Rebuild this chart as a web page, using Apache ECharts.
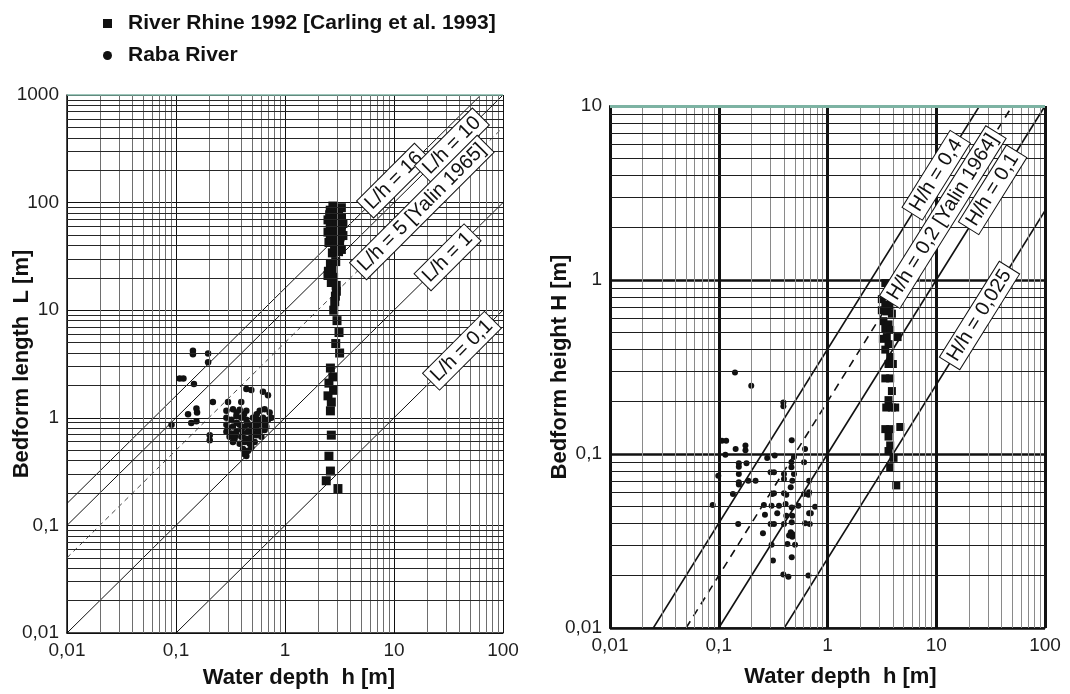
<!DOCTYPE html>
<html>
<head>
<meta charset="utf-8">
<title>Bedform length and height vs water depth</title>
<script src="https://cdn.jsdelivr.net/npm/echarts@6/dist/echarts.min.js"></script>
<style>
  html, body { margin: 0; padding: 0; background: #ffffff; }
  #chart { width: 1070px; height: 694px; }
</style>
</head>
<body>
<div id="chart"></div>
<script>
// ---- names and tick labels ----
const rhineName = 'River Rhine 1992 [Carling et al. 1993]';
const rabaName = 'Raba River';
const decadeLabels = { '-2': '0,01', '-1': '0,1', '0': '1', '1': '10', '2': '100', '3': '1000' };

// ---- left panel: water depth h [m] vs bedform length L [m] ----
const rhineLengthPoints = [
  [2.75, 92.9], [3.29, 89.6], [2.57, 77.1], [2.96, 74.3], [2.48, 69.1], [3.17, 66.6], [3.40, 64.0],
  [2.66, 59.5], [3.06, 57.3], [3.29, 55.2], [2.48, 53.2], [2.96, 51.3], [3.40, 49.4], [2.75, 45.9],
  [3.17, 44.2], [2.53, 42.6], [2.96, 39.5], [3.29, 36.7], [2.72, 34.1], [2.61, 27.2], [2.92, 28.3],
  [2.48, 21.0], [2.79, 20.2], [2.66, 18.1], [2.96, 15.0], [2.86, 12.0], [3.00, 8.0], [3.13, 6.2],
  [2.92, 4.9], [3.17, 4.0], [2.61, 2.9], [2.75, 2.4], [2.53, 2.1], [2.79, 1.8], [2.48, 1.6],
  [2.66, 1.4], [2.61, 1.16], [2.66, 0.69], [2.53, 0.44], [2.61, 0.32], [2.39, 0.26], [3.06, 0.22],
  [2.60, 85.0], [3.10, 80.0], [2.80, 70.0], [3.30, 72.0], [2.60, 62.0], [3.00, 62.0], [2.80, 52.0],
  [3.20, 48.0], [2.60, 47.0], [3.00, 45.0], [2.85, 38.0], [3.10, 35.0], [2.70, 24.0], [2.50, 23.0],
  [2.95, 17.0], [2.90, 13.5], [2.80, 10.0]
];
const rabaLengthPoints = [
  [0.143, 4.2], [0.143, 3.9], [0.197, 3.95], [0.197, 3.28], [0.108, 2.32], [0.117, 2.32], [0.146, 2.06],
  [0.218, 1.40], [0.091, 0.86], [0.129, 1.08], [0.154, 1.22], [0.156, 1.12], [0.138, 0.895], [0.154, 0.93],
  [0.204, 0.69], [0.204, 0.617],
  [0.442, 1.85], [0.491, 1.81], [0.628, 1.75], [0.698, 1.62], [0.397, 1.40], [0.300, 1.40], [0.290, 1.16],
  [0.333, 1.20], [0.384, 1.19], [0.442, 1.16], [0.586, 1.16], [0.650, 1.20], [0.723, 1.12], [0.290, 1.00],
  [0.322, 0.96], [0.358, 1.04], [0.397, 1.00], [0.442, 0.96], [0.508, 1.00], [0.565, 0.96], [0.628, 1.00],
  [0.698, 0.96], [0.750, 1.00], [0.290, 0.86], [0.333, 0.83], [0.384, 0.86], [0.427, 0.83], [0.474, 0.86],
  [0.546, 0.83], [0.607, 0.86], [0.674, 0.83], [0.290, 0.74], [0.322, 0.716], [0.358, 0.74], [0.412, 0.716],
  [0.458, 0.74], [0.508, 0.716], [0.586, 0.74], [0.650, 0.77], [0.310, 0.665], [0.345, 0.64], [0.397, 0.665],
  [0.442, 0.64], [0.491, 0.665], [0.546, 0.69], [0.607, 0.665], [0.333, 0.595], [0.384, 0.573], [0.427, 0.595],
  [0.474, 0.573], [0.527, 0.595], [0.412, 0.513], [0.458, 0.494], [0.491, 0.532], [0.442, 0.442], [0.427, 0.459],
  [0.360, 0.90], [0.450, 0.90], [0.530, 0.90], [0.400, 0.78], [0.500, 0.80], [0.560, 0.76], [0.350, 0.68],
  [0.470, 0.60], [0.600, 0.92], [0.300, 0.80], [0.550, 1.08], [0.420, 1.08], [0.360, 1.12], [0.660, 0.90]
];

// ---- right panel: water depth h [m] vs bedform height H [m] ----
const rhineHeightPoints = [
  [3.40, 0.96], [3.64, 0.83], [3.16, 0.776], [3.40, 0.72], [3.77, 0.71], [3.16, 0.67], [3.51, 0.66],
  [3.91, 0.64], [3.27, 0.58], [3.64, 0.556], [3.40, 0.53], [3.77, 0.517], [3.23, 0.459], [3.51, 0.47],
  [4.41, 0.47], [3.64, 0.428], [3.40, 0.398], [3.77, 0.361], [3.64, 0.329], [3.99, 0.329], [3.40, 0.272],
  [3.77, 0.272], [3.91, 0.23], [3.64, 0.204], [3.91, 0.185], [3.47, 0.185], [4.19, 0.185], [3.40, 0.139],
  [3.77, 0.139], [4.67, 0.143], [3.64, 0.126], [3.77, 0.112], [4.05, 0.095], [3.77, 0.084], [4.29, 0.066],
  [3.64, 0.104]
];
const rabaHeightPoints = [
  [0.141, 0.294], [0.199, 0.247], [0.393, 0.198], [0.393, 0.188], [0.469, 0.120], [0.107, 0.119], [0.117, 0.119],
  [0.143, 0.107], [0.176, 0.112], [0.176, 0.105], [0.115, 0.099], [0.279, 0.095], [0.327, 0.098], [0.622, 0.107],
  [0.492, 0.096], [0.153, 0.0884], [0.153, 0.0845], [0.180, 0.0884], [0.466, 0.0896], [0.466, 0.0838], [0.609, 0.0896],
  [0.099, 0.075], [0.153, 0.0767], [0.153, 0.0687], [0.153, 0.0667], [0.187, 0.0703], [0.218, 0.0703], [0.300, 0.0785],
  [0.322, 0.0785], [0.398, 0.0767], [0.398, 0.0718], [0.492, 0.0767], [0.475, 0.0703], [0.678, 0.0703], [0.459, 0.0643],
  [0.398, 0.0594], [0.418, 0.0583], [0.310, 0.0589], [0.322, 0.0594], [0.609, 0.0589], [0.678, 0.0602], [0.668, 0.0583],
  [0.135, 0.0589], [0.088, 0.0509], [0.260, 0.0509], [0.306, 0.0505], [0.358, 0.0505], [0.412, 0.0516], [0.469, 0.0493],
  [0.540, 0.0505], [0.769, 0.0498], [0.266, 0.0448], [0.345, 0.0456], [0.418, 0.0442], [0.475, 0.0442], [0.678, 0.0456],
  [0.702, 0.0456], [0.469, 0.0405], [0.622, 0.040], [0.300, 0.0396], [0.322, 0.0396], [0.398, 0.0396], [0.687, 0.0396],
  [0.151, 0.0396], [0.255, 0.035], [0.459, 0.0355], [0.475, 0.0347], [0.475, 0.0335], [0.443, 0.034], [0.306, 0.0301],
  [0.428, 0.0304], [0.503, 0.0301], [0.469, 0.0255], [0.315, 0.0244], [0.393, 0.0203], [0.437, 0.0197], [0.668, 0.020]
];

// ---- constant-ratio reference lines ----
const lengthRatios = [16, 10, 5, 1, 0.1];
const lengthRatioText = ['L/h = 16', 'L/h = 10', 'L/h = 5 [Yalin 1965]', 'L/h = 1', 'L/h = 0,1'];
const lengthLabelDepth = [10, 34, 18, 31, 42];      // h at which each line's label box sits
const heightRatios = [0.4, 0.2, 0.1, 0.025];
const heightRatioText = ['H/h = 0,4', 'H/h = 0,2 [Yalin 1964]', 'H/h = 0,1', 'H/h = 0,025'];
const heightLabelDepth = [10, 11.5, 33, 25];

// ---- axis ranges ----
const depthRange = [0.01, 100];
const lengthRange = [0.01, 1000];
const heightRange = [0.01, 10];

const FONT = '"Liberation Sans", Arial, Helvetica, sans-serif';
const INK = '#111111';
const TEAL = '#7db3a3';

function decadeLabel(v) {
  return decadeLabels[String(Math.round(Math.log10(v)))] || '';
}

// values 2..9 x 10^e for every decade between two exponents (log-paper rulings)
function minorValues(loExp, hiExp) {
  const out = [];
  for (let e = loExp; e < hiExp; e++) {
    for (let m = 2; m <= 9; m++) out.push(+(m * Math.pow(10, e)).toPrecision(6));
  }
  return out;
}

function ratioLine(r, xr, yr) {
  const h0 = Math.max(xr[0], yr[0] / r);
  const h1 = Math.min(xr[1], yr[1] / r);
  return [[h0, r * h0], [h1, r * h1]];
}

function axisCommon(extra) {
  return Object.assign({
    type: 'log',
    logBase: 10,
    nameLocation: 'middle',
    nameMoveOverlap: false,
    axisTick: { show: false },
    axisLabel: {
      formatter: decadeLabel, fontFamily: FONT, fontSize: 19, color: '#1e1e1e',
      showMinLabel: true, showMaxLabel: true
    },
    minorTick: { show: false },
    minorSplitLine: { show: false }
  }, extra);
}

function titleStyle(padding) {
  return { fontFamily: FONT, fontSize: 22, fontWeight: 'bold', color: INK, padding: padding };
}

// ----- gridline series (log-paper rulings drawn as mark lines) -----
function rulingSeries(xi, minorX, minorY, xStyle, yStyle, topValue, topWidth) {
  const data = [];
  minorX.forEach(v => data.push({ xAxis: v, lineStyle: xStyle }));
  minorY.forEach(v => data.push({ yAxis: v, lineStyle: yStyle }));
  data.push({ yAxis: topValue, lineStyle: { color: TEAL, width: topWidth, type: 'solid' } });
  return {
    type: 'line', xAxisIndex: xi, yAxisIndex: xi, data: [], silent: true, z: 1,
    markLine: {
      silent: true, symbol: ['none', 'none'], animation: false,
      label: { show: false }, emphasis: { disabled: true },
      data: data
    }
  };
}

const series = [];

series.push(rulingSeries(0,
  minorValues(-2, 2), minorValues(-2, 3),
  { color: '#6e6e6e', width: 1, type: 'solid' },
  { color: '#262626', width: 1, type: 'solid' },
  lengthRange[1], 1.5));

series.push(rulingSeries(1,
  minorValues(-2, 2), minorValues(-2, 1),
  { color: '#8a8a8a', width: 1, type: 'solid' },
  { color: '#1e1e1e', width: 1, type: 'solid' },
  heightRange[1], 3));

// reference lines, left panel
lengthRatios.forEach(r => {
  const dashed = r === 5;
  series.push({
    type: 'line', xAxisIndex: 0, yAxisIndex: 0, data: ratioLine(r, depthRange, lengthRange),
    symbol: 'none', silent: true, clip: true, z: 3,
    lineStyle: dashed ? { color: '#444', width: 1, type: [5, 4] } : { color: INK, width: 1 }
  });
});

// reference lines, right panel
heightRatios.forEach(r => {
  const dashed = r === 0.2;
  series.push({
    type: 'line', xAxisIndex: 1, yAxisIndex: 1, data: ratioLine(r, depthRange, heightRange),
    symbol: 'none', silent: true, clip: true, z: 3,
    lineStyle: dashed ? { color: INK, width: 1.6, type: [8, 6] } : { color: INK, width: 1.6 }
  });
});

// measured bedforms
function pointSeries(name, xi, data, symbol, size) {
  return {
    name: name, type: 'scatter', xAxisIndex: xi, yAxisIndex: xi, data: data,
    symbol: symbol, symbolSize: size, itemStyle: { color: INK, opacity: 1 }, z: 4
  };
}
series.push(pointSeries(rhineName, 0, rhineLengthPoints, 'rect', 9));
series.push(pointSeries(rabaName, 0, rabaLengthPoints, 'circle', 6.5));
series.push(pointSeries(rhineName, 1, rhineHeightPoints, 'rect', 8));
series.push(pointSeries(rabaName, 1, rabaHeightPoints, 'circle', 6));

// boxed labels sitting on the reference lines
function labelSeries(xi, ratios, texts, depths, angle) {
  return {
    type: 'scatter', xAxisIndex: xi, yAxisIndex: xi, silent: true, z: 6,
    symbolSize: 0.1, itemStyle: { color: 'rgba(255,255,255,0)', opacity: 1 },
    data: ratios.map((r, i) => ({ name: texts[i], value: [depths[i], r * depths[i]] })),
    label: {
      show: true, position: 'inside', rotate: angle, formatter: p => p.name,
      fontFamily: FONT, fontSize: 20, color: INK, opacity: 1,
      backgroundColor: '#ffffff', borderColor: INK, borderWidth: 1, padding: [2, 4, 1, 4]
    }
  };
}
series.push(labelSeries(0, lengthRatios, lengthRatioText, lengthLabelDepth, 45));
series.push(labelSeries(1, heightRatios, heightRatioText, heightLabelDepth, 58));

const option = {
  animation: false,
  backgroundColor: '#ffffff',
  textStyle: { fontFamily: FONT },
  legend: {
    orient: 'vertical', left: 98, top: 8, itemWidth: 9, itemHeight: 9, itemGap: 11,
    selectedMode: false,
    data: [{ name: rhineName, icon: 'rect' }, { name: rabaName, icon: 'circle' }],
    textStyle: { fontFamily: FONT, fontSize: 21, fontWeight: 'bold', color: INK, padding: [0, 0, 0, 11] }
  },
  grid: [
    { left: 67, top: 95, width: 436, height: 538, containLabel: false },
    { left: 610, top: 106, width: 435, height: 522, containLabel: false }
  ],
  xAxis: [
    axisCommon({
      gridIndex: 0, min: depthRange[0], max: depthRange[1],
      name: 'Water depth  h [m]', nameGap: 34, nameTextStyle: titleStyle([0, 0, 0, 28]),
      axisLine: { show: true, lineStyle: { color: INK, width: 1.5 } },
      splitLine: { show: true, lineStyle: { color: INK, width: 1 } }
    }),
    axisCommon({
      gridIndex: 1, min: depthRange[0], max: depthRange[1],
      name: 'Water depth  h [m]', nameGap: 38, nameTextStyle: titleStyle([0, 0, 0, 26]),
      axisLine: { show: true, lineStyle: { color: INK, width: 1.5 } },
      splitLine: { show: true, lineStyle: { color: INK, width: 3 } }
    })
  ],
  yAxis: [
    axisCommon({
      gridIndex: 0, min: lengthRange[0], max: lengthRange[1],
      name: 'Bedform length  L [m]', nameGap: 34, nameTextStyle: titleStyle([0, 0, 0, 0]),
      axisLine: { show: true, lineStyle: { color: INK, width: 1.5 } },
      splitLine: { show: true, lineStyle: { color: INK, width: 1 } }
    }),
    axisCommon({
      gridIndex: 1, min: heightRange[0], max: heightRange[1],
      name: 'Bedform height H [m]', nameGap: 39, nameTextStyle: titleStyle([0, 0, 0, 0]),
      axisLine: { show: true, lineStyle: { color: INK, width: 2 } },
      splitLine: { show: true, lineStyle: { color: INK, width: 2.5 } }
    })
  ],
  series: series
};

const chart = echarts.init(document.getElementById('chart'), null, { renderer: 'canvas' });
chart.setOption(option);
</script>
</body>
</html>
